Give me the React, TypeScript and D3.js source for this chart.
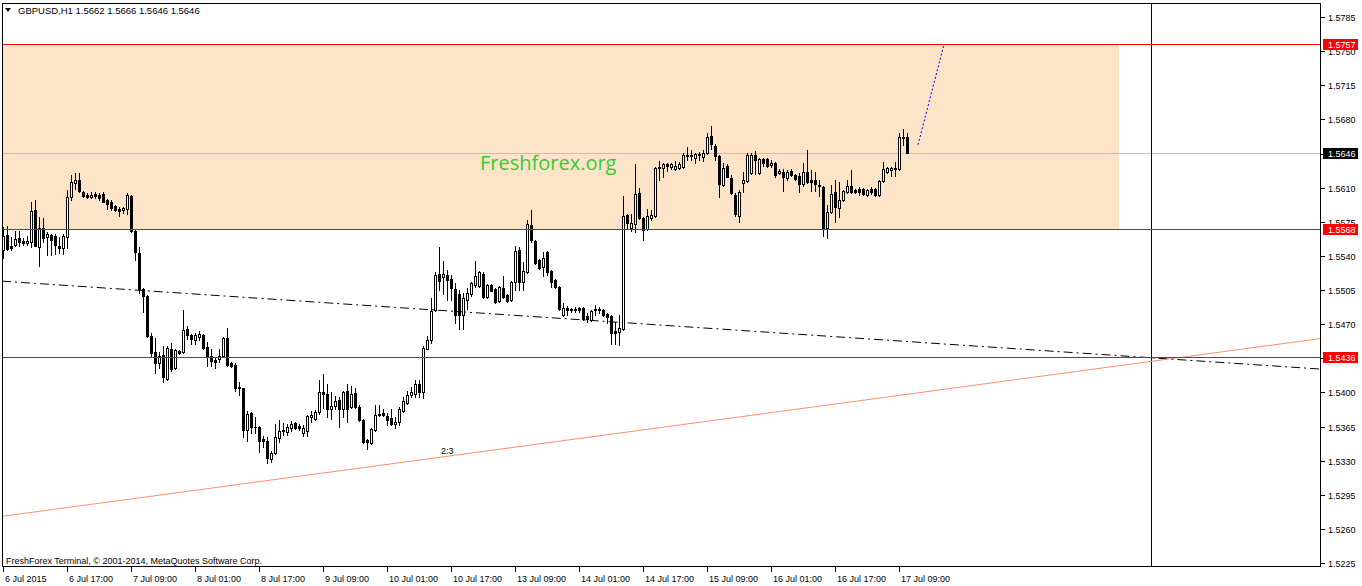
import React from "react";
import * as d3 from "d3";

const W = 1362;
const H = 586;
const frame = { left: 2, top: 3, right: 1321, bottom: 567 };

const symbolTitle = "GBPUSD,H1  1.5662 1.5666 1.5646 1.5646";
const copyright = "FreshForex Terminal, \u00a9 2001-2014, MetaQuotes Software Corp.";
const watermark = "Freshforex.org";

// hourly bars, bar index 0 = 6 Jul 2015 00:00 ; first visible bar = 1
const firstBar = 1;

const opens = [
1.5546,1.5561,1.5550,1.5551,1.5558,1.5555,1.5553,1.5554,1.5587,1.5549,
1.5569,1.5559,1.5561,1.5560,1.5550,1.5548,1.5559,1.5600,1.5615,1.5618,
1.5606,1.5602,1.5600,1.5603,1.5602,1.5603,1.5597,1.5595,1.5591,1.5588,
1.5587,1.5588,1.5601,1.5566,1.5543,1.5506,1.5499,1.5458,1.5441,1.5430,
1.5438,1.5414,1.5445,1.5425,1.5442,1.5441,1.5465,1.5459,1.5454,1.5457,
1.5459,1.5447,1.5437,1.5433,1.5434,1.5437,1.5456,1.5430,1.5428,1.5406,
1.5404,1.5361,1.5379,1.5365,1.5365,1.5352,1.5350,1.5332,1.5338,1.5353,
1.5360,1.5359,1.5363,1.5369,1.5366,1.5358,1.5360,1.5375,1.5373,1.5380,
1.5400,1.5398,1.5383,1.5386,1.5392,1.5383,1.5401,1.5385,1.5399,1.5385,
1.5372,1.5351,1.5348,1.5361,1.5377,1.5379,1.5376,1.5374,1.5368,1.5370,
1.5381,1.5389,1.5397,1.5398,1.5409,1.5400,1.5445,1.5454,1.5484,1.5521,
1.5518,1.5520,1.5516,1.5506,1.5501,1.5479,1.5495,1.5501,1.5510,1.5509,
1.5521,1.5498,1.5510,1.5506,1.5494,1.5507,1.5500,1.5495,1.5513,1.5546,
1.5513,1.5523,1.5572,1.5555,1.5536,1.5529,1.5544,1.5525,1.5515,1.5508,
1.5479,1.5487,1.5484,1.5486,1.5487,1.5487,1.5478,1.5474,1.5486,1.5484,
1.5485,1.5480,1.5478,1.5463,1.5462,1.5465,1.5582,1.5569,1.5573,1.5604,
1.5579,1.5568,1.5579,1.5581,1.5631,1.5630,1.5634,1.5631,1.5629,1.5630,
1.5631,1.5643,1.5643,1.5640,1.5645,1.5641,1.5646,1.5663,1.5653,1.5642,
1.5613,1.5632,1.5620,1.5602,1.5581,1.5615,1.5617,1.5625,1.5643,1.5625,
1.5639,1.5639,1.5633,1.5635,1.5625,1.5626,1.5620,1.5627,1.5623,1.5622,
1.5614,1.5626,1.5618,1.5618,1.5613,1.5611,1.5569,1.5585,1.5606,1.5589,
1.5597,1.5605,1.5612,1.5608,1.5609,1.5609,1.5602,1.5609,1.5609,1.5602,
1.5617,1.5626,1.5628,1.5630,1.5629,1.5662,1.5662,
];

const highs = [
1.5570,1.5571,1.5559,1.5566,1.5566,1.5558,1.5560,1.5595,1.5597,1.5580,
1.5579,1.5564,1.5562,1.5562,1.5559,1.5562,1.5608,1.5623,1.5625,1.5625,
1.5607,1.5604,1.5605,1.5605,1.5604,1.5606,1.5598,1.5597,1.5592,1.5590,
1.5590,1.5604,1.5602,1.5567,1.5549,1.5507,1.5500,1.5461,1.5456,1.5441,
1.5448,1.5448,1.5451,1.5445,1.5443,1.5484,1.5468,1.5460,1.5461,1.5463,
1.5460,1.5452,1.5444,1.5435,1.5445,1.5457,1.5466,1.5431,1.5430,1.5411,
1.5405,1.5381,1.5380,1.5375,1.5366,1.5355,1.5354,1.5340,1.5368,1.5372,
1.5369,1.5368,1.5371,1.5370,1.5368,1.5367,1.5377,1.5381,1.5382,1.5413,
1.5419,1.5409,1.5400,1.5396,1.5395,1.5401,1.5409,1.5407,1.5405,1.5387,
1.5373,1.5352,1.5363,1.5387,1.5387,1.5383,1.5379,1.5383,1.5375,1.5385,
1.5395,1.5401,1.5406,1.5413,1.5413,1.5448,1.5458,1.5497,1.5523,1.5549,
1.5535,1.5526,1.5520,1.5512,1.5505,1.5502,1.5507,1.5513,1.5535,1.5524,
1.5523,1.5511,1.5511,1.5507,1.5509,1.5519,1.5501,1.5514,1.5550,1.5549,
1.5534,1.5577,1.5587,1.5556,1.5537,1.5544,1.5545,1.5526,1.5516,1.5509,
1.5492,1.5489,1.5487,1.5488,1.5488,1.5488,1.5481,1.5484,1.5490,1.5488,
1.5486,1.5481,1.5479,1.5472,1.5479,1.5601,1.5583,1.5583,1.5634,1.5610,
1.5580,1.5588,1.5587,1.5631,1.5637,1.5635,1.5635,1.5635,1.5637,1.5636,
1.5646,1.5652,1.5649,1.5646,1.5647,1.5649,1.5666,1.5673,1.5655,1.5643,
1.5635,1.5634,1.5623,1.5604,1.5608,1.5626,1.5646,1.5646,1.5648,1.5640,
1.5640,1.5640,1.5638,1.5636,1.5629,1.5629,1.5628,1.5629,1.5624,1.5625,
1.5635,1.5649,1.5628,1.5626,1.5618,1.5612,1.5592,1.5613,1.5618,1.5616,
1.5608,1.5618,1.5628,1.5609,1.5611,1.5610,1.5609,1.5611,1.5610,1.5618,
1.5636,1.5631,1.5631,1.5636,1.5666,1.5670,1.5666,
];

const lows = [
1.5538,1.5546,1.5546,1.5550,1.5550,1.5551,1.5551,1.5549,1.5550,1.5530,
1.5554,1.5541,1.5541,1.5542,1.5543,1.5542,1.5548,1.5597,1.5609,1.5606,
1.5600,1.5599,1.5599,1.5599,1.5597,1.5595,1.5588,1.5587,1.5586,1.5581,
1.5584,1.5583,1.5565,1.5536,1.5502,1.5482,1.5457,1.5437,1.5420,1.5425,
1.5411,1.5413,1.5422,1.5424,1.5439,1.5440,1.5455,1.5450,1.5450,1.5454,
1.5445,1.5427,1.5427,1.5425,1.5431,1.5436,1.5427,1.5426,1.5401,1.5397,
1.5354,1.5350,1.5358,1.5358,1.5339,1.5344,1.5328,1.5329,1.5337,1.5349,
1.5356,1.5356,1.5360,1.5362,1.5361,1.5355,1.5355,1.5370,1.5372,1.5378,
1.5384,1.5375,1.5373,1.5383,1.5364,1.5375,1.5370,1.5384,1.5384,1.5371,
1.5348,1.5342,1.5347,1.5360,1.5376,1.5376,1.5367,1.5367,1.5363,1.5367,
1.5380,1.5388,1.5395,1.5395,1.5395,1.5394,1.5444,1.5451,1.5483,1.5505,
1.5501,1.5495,1.5495,1.5471,1.5465,1.5465,1.5486,1.5499,1.5508,1.5508,
1.5497,1.5497,1.5504,1.5492,1.5493,1.5497,1.5493,1.5494,1.5505,1.5505,
1.5505,1.5522,1.5554,1.5532,1.5527,1.5519,1.5520,1.5508,1.5507,1.5485,
1.5478,1.5479,1.5482,1.5482,1.5482,1.5474,1.5472,1.5473,1.5479,1.5481,
1.5478,1.5471,1.5450,1.5450,1.5449,1.5464,1.5568,1.5566,1.5564,1.5578,
1.5556,1.5567,1.5577,1.5580,1.5618,1.5621,1.5627,1.5629,1.5628,1.5629,
1.5630,1.5638,1.5638,1.5635,1.5638,1.5637,1.5644,1.5650,1.5638,1.5600,
1.5612,1.5621,1.5603,1.5581,1.5575,1.5606,1.5616,1.5624,1.5624,1.5624,
1.5632,1.5631,1.5631,1.5621,1.5624,1.5607,1.5618,1.5622,1.5618,1.5606,
1.5612,1.5615,1.5607,1.5607,1.5601,1.5560,1.5558,1.5584,1.5575,1.5580,
1.5596,1.5604,1.5604,1.5604,1.5602,1.5602,1.5601,1.5603,1.5601,1.5601,
1.5616,1.5625,1.5622,1.5622,1.5628,1.5654,1.5646,
];

const closes = [
1.5560,1.5547,1.5548,1.5557,1.5554,1.5553,1.5555,1.5586,1.5550,1.5569,
1.5558,1.5562,1.5556,1.5551,1.5548,1.5560,1.5600,1.5616,1.5618,1.5607,
1.5601,1.5600,1.5602,1.5601,1.5599,1.5595,1.5593,1.5589,1.5587,1.5586,
1.5589,1.5602,1.5566,1.5544,1.5506,1.5499,1.5458,1.5440,1.5430,1.5437,
1.5416,1.5446,1.5424,1.5443,1.5440,1.5464,1.5459,1.5455,1.5459,1.5460,
1.5446,1.5437,1.5432,1.5431,1.5437,1.5456,1.5428,1.5427,1.5404,1.5404,
1.5361,1.5378,1.5364,1.5364,1.5350,1.5350,1.5333,1.5338,1.5354,1.5360,
1.5361,1.5364,1.5368,1.5363,1.5363,1.5363,1.5376,1.5377,1.5380,1.5400,
1.5398,1.5383,1.5386,1.5391,1.5383,1.5400,1.5383,1.5398,1.5385,1.5372,
1.5349,1.5349,1.5362,1.5377,1.5378,1.5377,1.5372,1.5368,1.5370,1.5383,
1.5391,1.5397,1.5400,1.5409,1.5400,1.5446,1.5454,1.5483,1.5520,1.5514,
1.5521,1.5515,1.5507,1.5479,1.5479,1.5497,1.5502,1.5512,1.5519,1.5523,
1.5498,1.5510,1.5504,1.5493,1.5508,1.5498,1.5494,1.5513,1.5545,1.5513,
1.5524,1.5573,1.5556,1.5533,1.5528,1.5538,1.5523,1.5513,1.5508,1.5486,
1.5487,1.5485,1.5486,1.5484,1.5484,1.5475,1.5475,1.5483,1.5484,1.5486,
1.5479,1.5477,1.5461,1.5461,1.5466,1.5581,1.5574,1.5574,1.5603,1.5579,
1.5567,1.5581,1.5582,1.5630,1.5630,1.5634,1.5632,1.5634,1.5632,1.5634,
1.5643,1.5642,1.5642,1.5644,1.5643,1.5646,1.5662,1.5655,1.5642,1.5614,
1.5630,1.5621,1.5604,1.5583,1.5605,1.5618,1.5643,1.5643,1.5638,1.5639,
1.5635,1.5632,1.5635,1.5623,1.5627,1.5621,1.5626,1.5623,1.5619,1.5614,
1.5626,1.5616,1.5616,1.5614,1.5612,1.5569,1.5585,1.5603,1.5590,1.5597,
1.5607,1.5612,1.5605,1.5606,1.5606,1.5603,1.5608,1.5606,1.5602,1.5617,
1.5629,1.5630,1.5630,1.5629,1.5662,1.5661,1.5646,
];

const timeTickBars = [1, 17, 33, 49, 65, 81, 97, 113, 129, 145, 161, 177, 193, 209, 225];
const timeTickLabels = [
  "6 Jul 2015", "6 Jul 17:00", "7 Jul 09:00", "8 Jul 01:00", "8 Jul 17:00",
  "9 Jul 09:00", "10 Jul 01:00", "10 Jul 17:00", "13 Jul 09:00", "14 Jul 01:00",
  "14 Jul 17:00", "15 Jul 09:00", "16 Jul 01:00", "16 Jul 17:00", "17 Jul 09:00",
];

const priceTicks = [
  1.5785, 1.575, 1.5715, 1.568, 1.5645, 1.561, 1.5575, 1.554, 1.5505,
  1.547, 1.5435, 1.54, 1.5365, 1.533, 1.5295, 1.526, 1.5225,
];

const levelPrices = [1.5757, 1.5568, 1.5436];
const currentPrice = 1.5646;
const zoneTop = 1.5757;
const zoneBottom = 1.5568;
const zoneEndBar = 280;
const verticalLineBar = 288;

const trendBars = [1, 330];
const trendPrices = [1.5273, 1.5455];
const trendLabel = "2:3";
const trendLabelBar = 110.5;
const trendLabelPrice = 1.5337;

const channelBars = [1, 330];
const channelPrices = [1.5514, 1.5424];

const projectionBars = [229.75, 236.25];
const projectionPrices = [1.5654, 1.5757];

const FONT = "'Liberation Sans', Arial, sans-serif";

export default function App() {
  const x = d3.scaleLinear().domain([0, 330]).range([-1, 1319]);
  const y = d3.scaleLinear().domain([1.5225, 1.5785]).range([563, 17]);
  const px = (v: number) => Math.round(x(v));
  const py = (v: number) => Math.round(y(v));

  const lineThrough = (bars: number[], prices: number[]) => {
    const slope = (prices[1] - prices[0]) / (bars[1] - bars[0]);
    const b0 = x.invert(frame.left);
    const b1 = x.invert(frame.right);
    const p0 = prices[0] + slope * (b0 - bars[0]);
    const p1 = prices[0] + slope * (b1 - bars[0]);
    return { x1: x(b0), y1: y(p0), x2: x(b1), y2: y(p1) };
  };

  const trend = lineThrough(trendBars, trendPrices);
  const channel = lineThrough(channelBars, channelPrices);

  const candles = opens.map((o, i) => {
    const c = closes[i];
    const hi = Math.max(highs[i], o, c);
    const lo = Math.min(lows[i], o, c);
    const cx = px(firstBar + i);
    const yh = py(hi);
    const yl = py(lo);
    const top = py(Math.max(o, c));
    const bot = py(Math.min(o, c));
    const bull = c > o;
    return (
      <g key={i}>
        <rect x={cx} y={yh} width={1} height={yl - yh + 1} fill="#000" />
        {top === bot ? (
          <rect x={cx - 1} y={top} width={3} height={1} fill="#000" />
        ) : bull ? (
          <rect x={cx - 0.5} y={top + 0.5} width={2} height={bot - top} fill="#fff" stroke="#000" strokeWidth={1} />
        ) : (
          <rect x={cx - 1} y={top} width={3} height={bot - top + 1} fill="#000" />
        )}
      </g>
    );
  });

  const plotW = frame.right - frame.left;
  const plotH = frame.bottom - frame.top;

  return (
    <div style={{ position: "absolute", left: 0, top: 0, width: W, height: H, background: "#fff" }}>
      <svg width={W} height={H} style={{ display: "block" }} fontFamily={FONT}>
        <defs>
          <clipPath id="plot">
            <rect x={frame.left} y={frame.top} width={plotW} height={plotH} />
          </clipPath>
        </defs>
        <rect x={0} y={0} width={W} height={H} fill="#fff" />
        <g clipPath="url(#plot)">
          {/* supply zone */}
          <rect
            x={frame.left}
            y={py(zoneTop)}
            width={px(zoneEndBar) - frame.left}
            height={py(zoneBottom) - py(zoneTop)}
            fill="#FDE4C8"
          />
          {/* current price line */}
          <rect x={frame.left} y={py(currentPrice)} width={plotW} height={1} fill="#C0C0C0" />
          {/* vertical line */}
          <rect x={px(verticalLineBar)} y={frame.top} width={1} height={plotH} fill="#000030" />
          {/* channel dash-dot */}
          <line {...channel} stroke="#000" strokeWidth={1} strokeDasharray="9,4,2,4" />
          {/* trend line */}
          <line {...trend} stroke="#F9906E" strokeWidth={1} />
          {candles}
          {/* level lines */}
          {levelPrices.map((p, i) => (
            <rect key={i} x={frame.left} y={py(p)} width={plotW} height={1} fill="#FF0000" />
          ))}
          {/* projection */}
          <line
            x1={x(projectionBars[0])}
            y1={y(projectionPrices[0])}
            x2={x(projectionBars[1])}
            y2={y(projectionPrices[1])}
            stroke="#0000FF"
            strokeWidth={1}
            strokeDasharray="2,2"
          />
          <text x={x(trendLabelBar)} y={y(trendLabelPrice)} fontSize={9} fill="#000">{trendLabel}</text>
          <text x={480} y={170} fontSize={20} fill="#33CC33" fontFamily="'Open Sans', 'Liberation Sans', sans-serif">{watermark}</text>
          <text x={6} y={564} fontSize={9} fill="#000">{copyright}</text>
        </g>
        {/* frame */}
        <rect x={frame.left + 0.5} y={frame.top + 0.5} width={plotW - 1} height={plotH - 1} fill="none" stroke="#000" strokeWidth={1} />
        {/* header */}
        <path d="M5,8 L11,8 L8,12 Z" fill="#000" />
        <text x={18} y={14} fontSize={9.5} fill="#000">{symbolTitle}</text>
        {/* price axis */}
        {priceTicks.map((t, i) => (
          <g key={i}>
            <rect x={frame.right} y={py(t)} width={4} height={1} fill="#000" />
            <text x={1328} y={py(t) + 3.5} fontSize={9} fill="#000">{t.toFixed(4)}</text>
          </g>
        ))}
        {levelPrices.map((p, i) => (
          <g key={i}>
            <rect x={1323} y={py(p) - 5} width={35} height={11} fill="#FF0000" />
            <text x={1328} y={py(p) + 3.5} fontSize={9} fill="#fff">{p.toFixed(4)}</text>
          </g>
        ))}
        <rect x={1323} y={py(currentPrice) - 5} width={35} height={11} fill="#000" />
        <text x={1328} y={py(currentPrice) + 3.5} fontSize={9} fill="#fff">{currentPrice.toFixed(4)}</text>
        {/* time axis */}
        {timeTickBars.map((b, i) => (
          <g key={i}>
            <rect x={px(b)} y={frame.bottom} width={1} height={5} fill="#000" />
            <text x={px(b) + 2} y={582} fontSize={9} fill="#000">{timeTickLabels[i]}</text>
          </g>
        ))}
      </svg>
    </div>
  );
}
